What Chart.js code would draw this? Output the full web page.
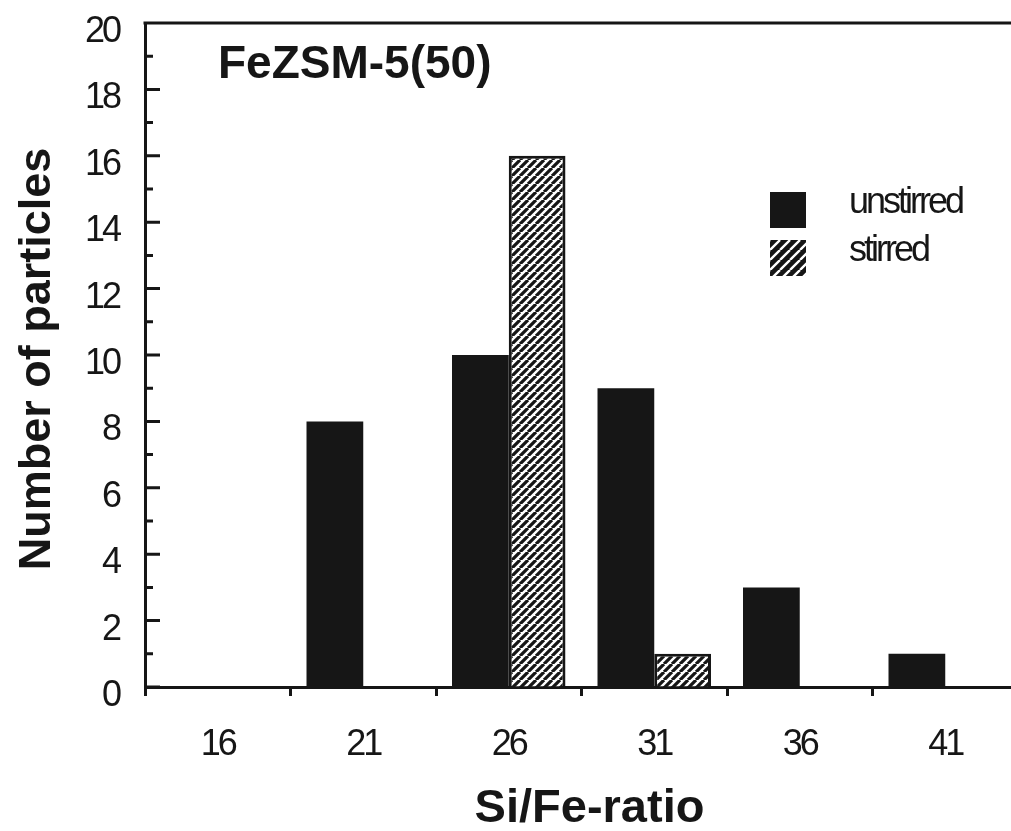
<!DOCTYPE html>
<html lang="en">
<head>
  <meta charset="UTF-8" />
  <title>FeZSM-5(50) - Si/Fe-ratio</title>
  <script src="https://cdn.jsdelivr.net/npm/chart.js"></script>
  <style>
    html, body {
      margin: 0;
      padding: 0;
      overflow: hidden;
      background: #fff;
    }
    #grafica {
      display: block;
    }
  </style>
</head>
<body>
  <canvas id="grafica" width="1020" height="831"></canvas>

  <script>
    const categories = ['16', '21', '26', '31', '36', '41'];
    const unstirred = [0, 8, 10, 9, 3, 1];
    const stirred = [0, 0, 16, 1, 0, 0];
    const seriesNames = ['unstirred', 'stirred'];
    const chartTitle = 'FeZSM-5(50)';
    const xTitle = 'Si/Fe-ratio';
    const yTitle = 'Number of particles';

    const ink = '#161616';
    const family = "'Liberation Sans', Arial, sans-serif";

    // diagonal hatch "/" tile
    function hatch(size, bg, fg, width) {
      const c = document.createElement('canvas');
      c.width = size;
      c.height = size;
      const g = c.getContext('2d');
      g.fillStyle = bg;
      g.fillRect(0, 0, size, size);
      g.strokeStyle = fg;
      g.lineWidth = width;
      g.beginPath();
      for (let k = -1; k <= 1; k++) {
        g.moveTo(k * size, size);
        g.lineTo(k * size + size, 0);
      }
      g.stroke();
      return g.createPattern(c, 'repeat');
    }

    const barHatch = hatch(8, '#fff', ink, 3.2);
    const keyHatch = hatch(10, ink, '#fff', 2.4);

    const frame = {
      id: 'frame',
      beforeDraw(chart) {
        // tight tracking like the original typeface
        chart.ctx.letterSpacing = '-3px';
      },
      afterDraw(chart) {
        const { ctx, chartArea, scales: { x, y } } = chart;
        ctx.save();
        ctx.strokeStyle = ink;
        ctx.lineWidth = 3;
        ctx.beginPath();
        for (let v = y.min; v <= y.max; v++) {
          const py = y.getPixelForValue(v);
          const len = v % 2 === 0 ? 15 : 8;
          ctx.moveTo(chartArea.left, py);
          ctx.lineTo(chartArea.left + len, py);
        }
        ctx.moveTo(chartArea.left - 1.5, chartArea.top);
        ctx.lineTo(chartArea.right, chartArea.top);
        ctx.stroke();

        // legend
        const fills = [ink, keyHatch];
        ctx.font = '36px ' + family;
        chart.data.datasets.forEach((ds, i) => {
          const bx = chartArea.left + 625;
          const by = chartArea.top + 169 + i * 48;
          ctx.fillStyle = fills[i];
          ctx.fillRect(bx, by, 36, 36);
          ctx.fillStyle = ink;
          ctx.fillText(ds.label, bx + 79, by + 21);
        });

        // titles
        ctx.letterSpacing = '0px';
        ctx.fillStyle = ink;
        ctx.textBaseline = 'alphabetic';
        ctx.font = 'bold 46px ' + family;
        ctx.fillText(chartTitle, chartArea.left + 73, chartArea.top + 55);

        ctx.textAlign = 'center';
        ctx.font = 'bold 47px ' + family;
        ctx.fillText(xTitle, (x.left + x.right) / 2 + 8, 822);

        ctx.font = 'bold 45px ' + family;
        ctx.translate(50, (y.top + y.bottom) / 2 + 4);
        ctx.rotate(-Math.PI / 2);
        ctx.fillText(yTitle, 0, 0);
        ctx.restore();
      }
    };

    const ctx = document.getElementById('grafica').getContext('2d');
    new Chart(ctx, {
      type: 'bar',
      data: {
        labels: categories,
        datasets: [{
          label: seriesNames[0],
          data: unstirred,
          backgroundColor: ink,
          borderColor: ink,
          borderWidth: 0,
          categoryPercentage: 0.78,
          barPercentage: 1
        }, {
          label: seriesNames[1],
          data: stirred,
          backgroundColor: barHatch,
          borderColor: ink,
          borderWidth: 3,
          categoryPercentage: 0.78,
          barPercentage: 1
        }]
      },
      options: {
        responsive: false,
        animation: false,
        layout: { padding: { top: 23, right: 2, left: 0, bottom: 0 } },
        scales: {
          x: {
            offset: true,
            afterFit: s => {
              s.height = 144;
              s.paddingLeft = 0;
              s.paddingRight = 0;
            },
            grid: {
              offset: true,
              drawOnChartArea: false,
              tickLength: 9,
              tickWidth: 3,
              tickColor: ink
            },
            border: { display: true, color: ink, width: 3 },
            ticks: {
              color: ink,
              padding: 31,
              font: { family: family, size: 36, lineHeight: 1 }
            }
          },
          y: {
            min: 0,
            max: 20,
            afterFit: s => {
              s.width = 145;
              s.paddingTop = 0;
              s.paddingBottom = 0;
            },
            grid: { drawOnChartArea: false, drawTicks: false },
            border: { display: true, color: ink, width: 3 },
            ticks: {
              stepSize: 2,
              color: ink,
              padding: 26,
              labelOffset: 9,
              font: { family: family, size: 36, lineHeight: 1 }
            }
          }
        },
        plugins: {
          legend: { display: false },
          tooltip: { enabled: false }
        }
      },
      plugins: [frame]
    });
  </script>
</body>
</html>
